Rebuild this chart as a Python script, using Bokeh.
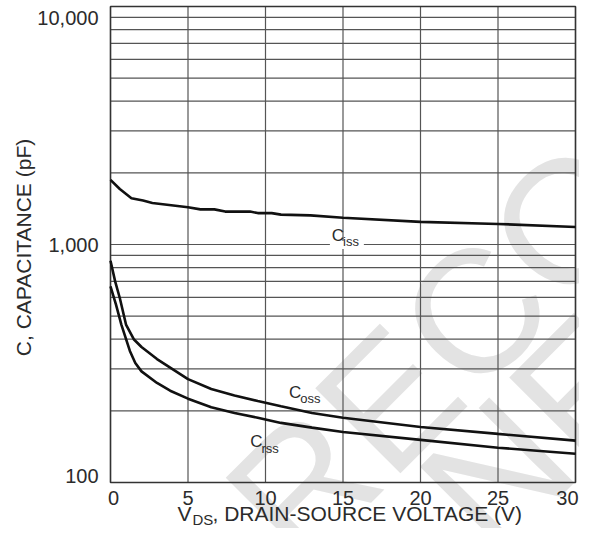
import math
from bokeh.plotting import figure
from bokeh.models import Label, Range1d
from bokeh.embed import file_html
from bokeh.resources import INLINE

# ---------------- data ----------------
ciss_v = [0, 0.6, 1.35, 2.1, 2.7, 5, 5.8, 6.7, 7.4, 9, 9.5, 10.4, 11, 12.9, 15, 20, 25, 30]
ciss_c = [1870, 1710, 1565, 1530, 1495, 1435, 1405, 1405, 1375, 1375, 1355, 1355, 1335, 1325, 1295, 1245, 1220, 1185]

coss_v = [0, 0.3, 0.6, 1.0, 1.5, 2.0, 3.0, 3.85, 5, 6.5, 8, 9.5, 11, 13, 15, 20, 25, 30]
coss_c = [855, 700, 596, 461, 400, 371, 330, 304, 272, 247, 232, 220, 209, 196, 187, 171, 160, 150]

crss_v = [0, 0.35, 0.7, 1.25, 1.6, 2.0, 3.0, 3.85, 5, 6.5, 8, 9.5, 11, 13, 15, 20, 25, 30]
crss_c = [667, 560, 461, 357, 318, 293, 262, 243, 225, 207, 196, 187, 178, 170, 163, 151, 140, 132]

x_ticks = [0, 5, 10, 15, 20, 25, 30]
y_major = [100, 1000, 10000]
y_tick_labels = ["100", "1,000", "10,000"]
y_grid = [100, 200, 300, 400, 500, 600, 700, 800, 900,
          1000, 2000, 3000, 4000, 5000, 6000, 7000, 8000, 9000, 10000]

XMIN, XMAX = 0, 30
YMIN, YMAX = 100, 10000

# ---------------- layout helpers ----------------
W, H = 579, 528
FL, FW, FT, FH = 110, 465, 6, 476      # chart box on the canvas (pixels)
LO, HI = math.log10(YMIN), math.log10(YMAX)


def cx(px):
    """canvas pixel x -> data x"""
    return XMIN + (px - FL) / FW * (XMAX - XMIN)


def cy(py):
    """canvas pixel y -> data y (log)"""
    return 10 ** (HI - (py - FT) / FH * (HI - LO))


def rx(px):
    """reference picture x (inside chart) -> data x"""
    return XMIN + (px - 110) / 479 * (XMAX - XMIN)


def ry(py):
    """reference picture y (inside chart) -> data y"""
    return 10 ** (HI - (py - 6) / 479 * (HI - LO))


FONT = "Liberation Sans"
TXT = "#2b2b2b"
GRID = "#555555"

p = figure(width=W, height=H, x_range=Range1d(cx(0), cx(W)), y_range=Range1d(cy(H), cy(0)),
           y_axis_type="log", output_backend="svg", toolbar_location=None,
           min_border_left=0, min_border_right=0, min_border_top=0, min_border_bottom=0)
p.xaxis.visible = False
p.yaxis.visible = False
p.grid.visible = False
p.outline_line_color = None
p.background_fill_color = "white"
p.border_fill_color = "white"

# ---------------- watermark ----------------
WM = "#e3e3e3"
p.add_layout(Label(x=rx(262), y=ry(533), text="RECO", angle=math.pi / 4,
                   text_font=FONT, text_font_size="175px", text_color=WM,
                   text_align="left", text_baseline="alphabetic", level="image"))
p.add_layout(Label(x=rx(462), y=ry(522), text="NE", angle=math.pi / 4,
                   text_font=FONT, text_font_size="175px", text_color=WM,
                   text_align="left", text_baseline="alphabetic", level="image"))

# ---------------- grid + box ----------------
p.segment(x0=[XMIN] * len(y_grid), x1=[XMAX] * len(y_grid), y0=y_grid, y1=y_grid,
          line_color=GRID, line_width=1.2)
p.segment(x0=x_ticks, x1=x_ticks, y0=[YMIN] * len(x_ticks), y1=[YMAX] * len(x_ticks),
          line_color=GRID, line_width=1.2)
p.quad(left=[XMIN], right=[XMAX], bottom=[YMIN], top=[YMAX],
       fill_color=None, line_color="#333333", line_width=1.5)

# white gap behind the Ciss label
p.quad(left=[rx(336)], right=[rx(371)], bottom=[ry(250)], top=[ry(242)],
       fill_color="white", line_color=None)

# ---------------- curves ----------------
for xs, ys in [(ciss_v, ciss_c), (coss_v, coss_c), (crss_v, crss_c)]:
    p.line(xs, ys, line_color="#111111", line_width=2.6)


def curve_label(x_left, mid_c, mid_sub, sub):
    p.add_layout(Label(x=rx(x_left), y=ry(mid_c), text="C", text_font=FONT,
                       text_font_size="17px", text_color=TXT,
                       text_align="left", text_baseline="middle"))
    p.add_layout(Label(x=rx(x_left + 11.5), y=ry(mid_sub), text=sub, text_font=FONT,
                       text_font_size="13px", text_color=TXT,
                       text_align="left", text_baseline="middle"))


curve_label(338, 236, 242.5, "iss")
curve_label(294, 394, 400.5, "oss")
curve_label(254, 444, 450.5, "rss")

# ---------------- tick labels ----------------
for t in x_ticks:
    if t == XMAX:
        p.add_layout(Label(x=cx(W - 1), y=cy(497), text=str(t), text_font=FONT,
                           text_font_size="20px", text_color=TXT,
                           text_align="right", text_baseline="middle"))
    else:
        p.add_layout(Label(x=t, x_offset=3 if t == 0 else 0, y=cy(497), text=str(t),
                           text_font=FONT, text_font_size="20px", text_color=TXT,
                           text_align="center", text_baseline="middle"))

y_label_pos = [475, 244, 17]
for v, lab, py in zip(y_major, y_tick_labels, y_label_pos):
    p.add_layout(Label(x=cx(98), y=cy(py), text=lab, text_font=FONT,
                       text_font_size="20px", text_color=TXT,
                       text_align="right", text_baseline="middle"))

# ---------------- axis titles ----------------
p.add_layout(Label(x=cx(23), y=cy(247), text="C, CAPACITANCE (pF)", angle=math.pi / 2,
                   text_font=FONT, text_font_size="21px", text_color=TXT,
                   text_align="center", text_baseline="middle"))
p.add_layout(Label(x=cx(177), y=cy(513), text="V", text_font=FONT,
                   text_font_size="21px", text_color=TXT,
                   text_align="left", text_baseline="middle"))
p.add_layout(Label(x=cx(192), y=cy(519), text="DS", text_font=FONT,
                   text_font_size="15px", text_color=TXT,
                   text_align="left", text_baseline="middle"))
p.add_layout(Label(x=cx(212), y=cy(513), text=", DRAIN-SOURCE VOLTAGE (V)", text_font=FONT,
                   text_font_size="21px", text_color=TXT,
                   text_align="left", text_baseline="middle"))

open("out.html", "w").write(file_html(p, INLINE))
